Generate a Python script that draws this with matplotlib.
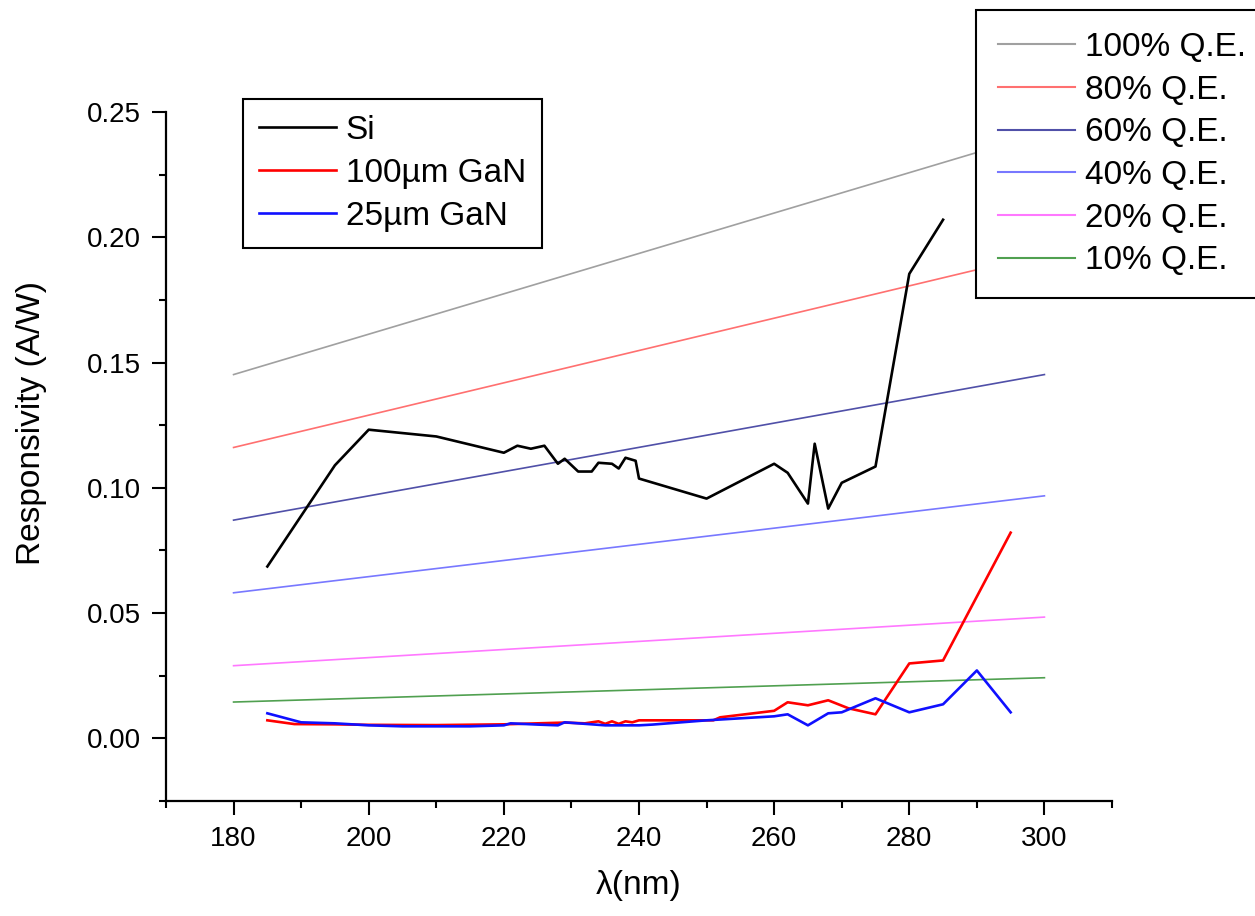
import matplotlib
matplotlib.use("Agg")
import matplotlib.pyplot as plt

plt.rcParams['font.family'] = ['Liberation Sans', 'DejaVu Sans']

# ---- data ----
si_wl = [185, 195, 200, 210, 220, 222, 224, 226, 228, 229, 231, 233, 234, 236,
         237, 238, 239.5, 240, 250, 260, 262, 265, 266, 268, 270, 275, 280, 285]
si_r = [0.0686, 0.109, 0.1232, 0.1205, 0.114, 0.1168, 0.1156, 0.1168, 0.1096,
        0.1116, 0.1065, 0.1065, 0.110, 0.1096, 0.1077, 0.112, 0.1108, 0.1037,
        0.0957, 0.1096, 0.106, 0.0937, 0.1176, 0.0917, 0.102, 0.1085, 0.1854, 0.207]

gan100_wl = [185, 189, 195, 200, 210, 220, 225, 229, 232, 234, 235, 236, 237, 238,
             239, 240, 251, 252, 260, 262, 265, 268, 271, 275, 280, 285, 290, 295]
gan100_r = [0.0072, 0.0057, 0.0056, 0.0054, 0.0053, 0.0056, 0.006, 0.0063, 0.0060,
            0.0068, 0.0058, 0.0068, 0.0058, 0.0068, 0.0064, 0.0072, 0.0072, 0.0084,
            0.011, 0.0144, 0.0132, 0.0152, 0.012, 0.0096, 0.0299, 0.0311, 0.0566, 0.0821]

gan25_wl = [185, 190, 195, 200, 205, 215, 220, 221, 225, 228, 229, 235, 238, 240,
            242, 250, 260, 262, 265, 268, 270, 275, 280, 285, 290, 295]
gan25_r = [0.010, 0.0064, 0.006, 0.0052, 0.0048, 0.0048, 0.0052, 0.006, 0.0055,
           0.0052, 0.0064, 0.0052, 0.0052, 0.0052, 0.0055, 0.0072, 0.0088, 0.0096,
           0.0052, 0.010, 0.0104, 0.016, 0.0104, 0.0136, 0.0271, 0.0104]

qe_labels = ['100% Q.E.', '80% Q.E.', '60% Q.E.', '40% Q.E.', '20% Q.E.', '10% Q.E.']
qe_wl = [180, 300]
qe_start = [0.1452, 0.1161, 0.0871, 0.0581, 0.0290, 0.0145]
qe_end = [0.2419, 0.1935, 0.1452, 0.0968, 0.0484, 0.0242]
qe_colors = ['#a0a0a0', '#ff7070', '#5050a8', '#7878ff', '#ff78ff', '#50a050']

data_labels = ['Si', '100\u00b5m GaN', '25\u00b5m GaN']
data_colors = ['#000000', '#ff0000', '#1010ff']

x_ticks = [180, 200, 220, 240, 260, 280, 300]
y_ticks = [0.00, 0.05, 0.10, 0.15, 0.20, 0.25]

# ---- figure ----
W, H = 1255, 916
fig = plt.figure(figsize=(W / 100, H / 100), dpi=100)
L, R, T, B = 166, 1112, 112, 801
ax = fig.add_axes([L / W, 1 - B / H, (R - L) / W, (B - T) / H])

qe_handles = []
for lab, s, e, c in zip(qe_labels, qe_start, qe_end, qe_colors):
    h, = ax.plot(qe_wl, [s, e], color=c, lw=1.2, label=lab)
    qe_handles.append(h)

data_handles = []
for wl, r, lab, c in zip([si_wl, gan100_wl, gan25_wl], [si_r, gan100_r, gan25_r],
                         data_labels, data_colors):
    h, = ax.plot(wl, r, color=c, lw=1.9, label=lab)
    data_handles.append(h)

ax.set_xlim(170, 310)
ax.set_ylim(-0.025, 0.25)
ax.set_xticks(x_ticks)
ax.set_xticks(range(170, 311, 10), minor=True)
ax.set_yticks(y_ticks)
ax.set_yticklabels(['%.2f' % v for v in y_ticks])
ax.set_yticks([-0.025 + 0.025 * i for i in range(12)], minor=True)

for side in ['top', 'right']:
    ax.spines[side].set_visible(False)
for side in ['left', 'bottom']:
    ax.spines[side].set_linewidth(1.6)

ax.tick_params(which='major', direction='out', length=10, width=1.5,
               labelsize=20, pad=8)
ax.tick_params(which='minor', direction='out', length=5, width=1.5)

ax.set_xlabel('\u03bb(nm)', fontsize=24)
ax.set_ylabel('Responsivity (A/W)', fontsize=24)
ax.xaxis.set_label_coords(0.5, -0.1)
ax.yaxis.set_label_coords(-0.126, 0.549)

leg1 = ax.legend(handles=data_handles, loc='upper left',
                 bbox_to_anchor=(243 / W, 1 - 99 / H), bbox_transform=fig.transFigure,
                 borderaxespad=0, fontsize=24, frameon=True, fancybox=False,
                 edgecolor='black', framealpha=1, handlelength=2.3,
                 handletextpad=0.3, labelspacing=0.36, borderpad=0.48)
leg1.get_frame().set_linewidth(1.5)
ax.add_artist(leg1)

leg2 = ax.legend(handles=qe_handles, loc='upper left',
                 bbox_to_anchor=(976 / W, 1 - 10 / H), bbox_transform=fig.transFigure,
                 borderaxespad=0, fontsize=24, frameon=True, fancybox=False,
                 edgecolor='black', framealpha=1, handlelength=2.3,
                 handletextpad=0.3, labelspacing=0.35, borderpad=0.66)
leg2.get_frame().set_linewidth(1.5)
for lh in leg2.get_lines():
    lh.set_linewidth(1.5)

fig.savefig('out.png', dpi=100)
